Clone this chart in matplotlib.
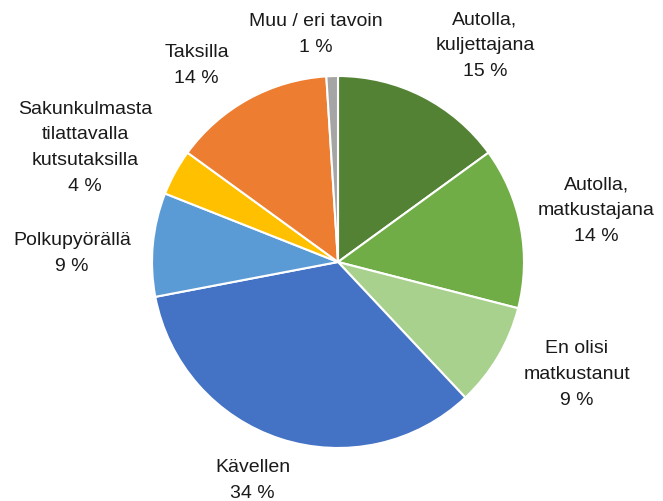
import matplotlib
matplotlib.use("Agg")
import matplotlib.pyplot as plt

labels = ["Autolla,\nkuljettajana", "Autolla,\nmatkustajana", "En olisi\nmatkustanut",
          "Kävellen", "Polkupyörällä", "Sakunkulmasta\ntilattavalla\nkutsutaksilla",
          "Taksilla", "Muu / eri tavoin"]
values = [15, 14, 9, 34, 9, 4, 14, 1]
colors = ["#548235", "#70AD47", "#A9D18E", "#4472C4", "#5B9BD5", "#FFC000", "#ED7D31", "#A5A5A5"]

# label centres relative to pie centre, in units of the radius
label_pos = [(0.79, 1.17), (1.39, 0.28), (1.285, -0.60), (-0.46, -1.17),
             (-1.43, 0.05), (-1.36, 0.62), (-0.76, 1.06), (-0.12, 1.23)]

plt.rcParams["font.family"] = ["Liberation Sans", "DejaVu Sans"]

fig = plt.figure(figsize=(6.63, 5.02), dpi=100)
ax = fig.add_axes([0, 0, 1, 1])
ax.axis("off")

ax.pie(values, colors=colors, startangle=90, counterclock=False, radius=1.0,
       wedgeprops=dict(edgecolor="white", linewidth=1.5))

for lab, v, (x, y) in zip(labels, values, label_pos):
    ax.text(x, y, f"{lab}\n{v} %", ha="center", va="center", fontsize=14,
            color="#1a1a1a", linespacing=1.67)

ax.set_aspect("auto")
ax.set_xlim(-338 / 186, (663 - 338) / 186)
ax.set_ylim(-(502 - 263) / 186, 263 / 186)

fig.savefig("out.png", dpi=100)
